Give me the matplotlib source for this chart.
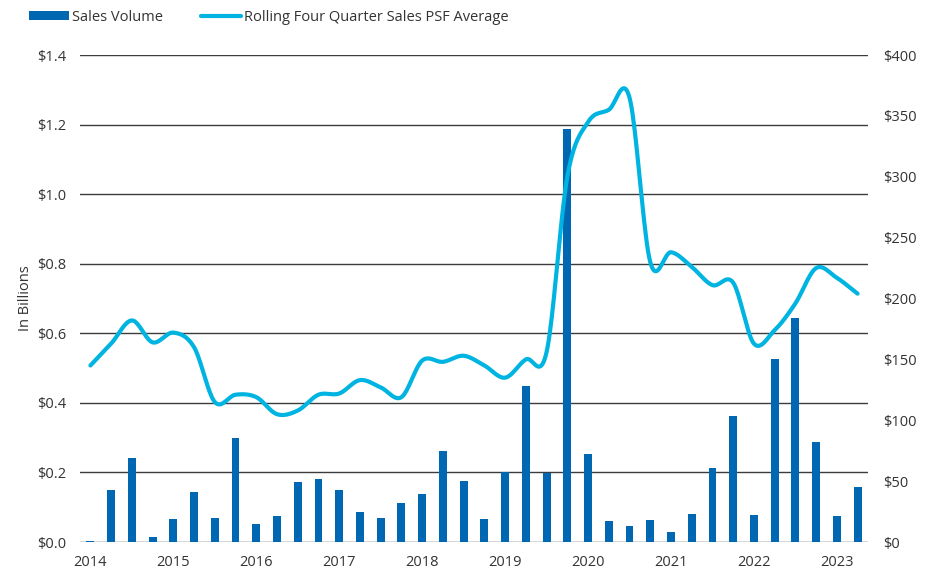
import numpy as np
import matplotlib
matplotlib.use("Agg")
import matplotlib.pyplot as plt
from matplotlib.patches import Patch
from matplotlib.lines import Line2D

plt.rcParams['font.family'] = ['Open Sans', 'DejaVu Sans']

# Quarterly series, 2014 Q1 .. 2023 Q2
quarters = [f"{y} Q{q}" for y in range(2014, 2024) for q in range(1, 5)][:38]
year_labels = [str(y) for y in range(2014, 2024)]

sales_volume = [0.002, 0.15, 0.241, 0.015, 0.066, 0.144, 0.069, 0.299,
                0.052, 0.075, 0.172, 0.181, 0.149, 0.086, 0.069, 0.112,
                0.138, 0.262, 0.175, 0.066, 0.201, 0.448, 0.198, 1.187,
                0.253, 0.060, 0.046, 0.063, 0.029, 0.080, 0.213, 0.362,
                0.078, 0.526, 0.644, 0.287, 0.075, 0.158]

psf_average = [145, 163, 182, 164, 172, 160, 115, 121,
               119, 105, 108, 121, 122, 133, 127, 119,
               149, 148, 153, 145, 135, 150, 156, 300,
               345, 355, 365, 230, 238, 226, 211, 213,
               163, 174, 196, 225, 217, 204]

BAR_COLOR = "#0068b3"
LINE_COLOR = "#00b4e2"
TEXT_COLOR = "#333333"
GRID_COLOR = "#3c3c3c"


def catmull_rom(x, y, samples=20):
    """Smooth curve through the points (uniform Catmull-Rom spline)."""
    x = np.asarray(x, float)
    y = np.asarray(y, float)
    px = np.concatenate([[2 * x[0] - x[1]], x, [2 * x[-1] - x[-2]]])
    py = np.concatenate([[2 * y[0] - y[1]], y, [2 * y[-1] - y[-2]]])
    ox, oy = [], []
    t = np.linspace(0, 1, samples, endpoint=False)
    for i in range(1, len(px) - 2):
        for arr, out in ((px, ox), (py, oy)):
            p0, p1, p2, p3 = arr[i - 1], arr[i], arr[i + 1], arr[i + 2]
            out.extend(0.5 * ((2 * p1) + (-p0 + p2) * t
                              + (2 * p0 - 5 * p1 + 4 * p2 - p3) * t ** 2
                              + (-p0 + 3 * p1 - 3 * p2 + p3) * t ** 3))
    ox.append(x[-1])
    oy.append(y[-1])
    return np.array(ox), np.array(oy)


fig = plt.figure(figsize=(9.35, 5.72), dpi=100)
ax = fig.add_axes([0.0856, 0.0524, 0.8427, 0.8514])
ax2 = ax.twinx()

idx = np.arange(len(quarters))
ax.bar(idx, sales_volume, width=0.38, color=BAR_COLOR, zorder=3)

sx, sy = catmull_rom(idx, psf_average)
ax2.plot(sx, sy, color=LINE_COLOR, lw=3.0, solid_capstyle='round', zorder=4)

ax.set_xlim(-0.5, len(quarters) - 0.5)
ax.set_ylim(0, 1.4)
ax2.set_ylim(0, 400)

ax.set_yticks(np.arange(0, 1.41, 0.2))
ax.set_yticklabels([f"${v:.1f}" for v in np.arange(0, 1.41, 0.2)])
ax2.set_yticks(np.arange(0, 401, 50))
ax2.set_yticklabels([f"${v:d}" for v in range(0, 401, 50)])
ax.set_xticks(idx[::4])
ax.set_xticklabels(year_labels)

ax.yaxis.grid(True, color=GRID_COLOR, lw=1.0, zorder=0)
ax.set_axisbelow(True)
for a in (ax, ax2):
    for s in a.spines.values():
        s.set_visible(False)

ax.tick_params(axis='y', length=0, pad=10, labelsize=10.5, labelcolor=TEXT_COLOR)
ax.tick_params(axis='x', length=0, pad=9, labelsize=10.5, labelcolor=TEXT_COLOR)
ax2.tick_params(axis='y', length=0, pad=11, labelsize=10.5, labelcolor=TEXT_COLOR)

ax.set_ylabel("In Billions", fontsize=10.5, color=TEXT_COLOR, labelpad=3)

handles = [Patch(facecolor=BAR_COLOR, edgecolor='none'),
           Line2D([0], [0], color=LINE_COLOR, lw=3.0, solid_capstyle='round')]
fig.legend(handles, ["Sales Volume", "Rolling Four Quarter Sales PSF Average"],
           loc='upper left', bbox_to_anchor=(0.017, 1.006), ncol=2, frameon=False,
           fontsize=10.5, handlelength=2.75, handleheight=0.55, handletextpad=0.2,
           columnspacing=2.6, labelcolor=TEXT_COLOR)

fig.savefig("out.png", dpi=100)
